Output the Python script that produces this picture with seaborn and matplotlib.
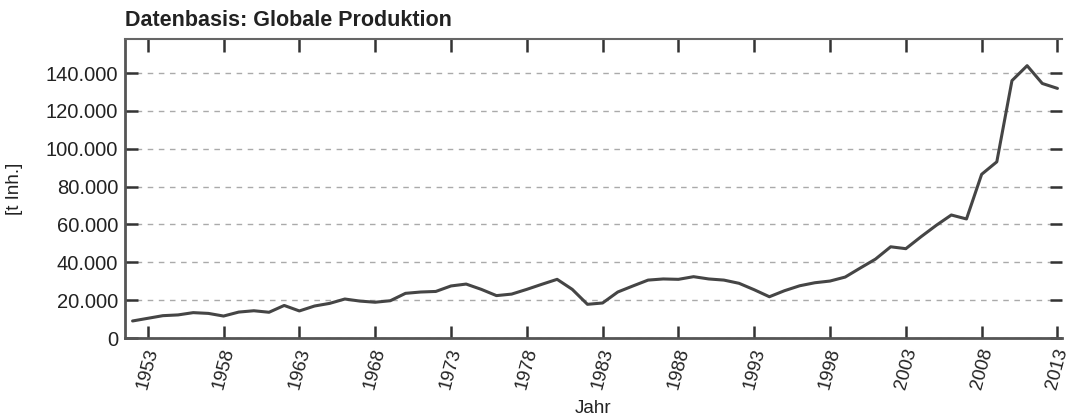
import numpy as np
import pandas as pd
import matplotlib
matplotlib.use("Agg")
import matplotlib.pyplot as plt
from matplotlib.ticker import FuncFormatter
import seaborn as sns

years = list(range(1952, 2014))
production = [
    9000, 10400, 11800, 12200, 13400, 13000, 11600, 13700, 14400, 13600,   # 1952-1961
    17200, 14300, 16900, 18300, 20600, 19500, 18900, 19700, 23600, 24300,  # 1962-1971
    24600, 27500, 28500, 25700, 22400, 23200, 25700, 28400, 31000, 25700,  # 1972-1981
    17800, 18500, 24300, 27500, 30600, 31200, 31000, 32400, 31200, 30600,  # 1982-1991
    28900, 25500, 21800, 25000, 27600, 29200, 30100, 32200, 37000, 41700,  # 1992-2001
    48200, 47200, 53500, 59500, 65000, 62900, 86500, 93100, 136000, 143900,  # 2002-2011
    134500, 131900,                                                        # 2012-2013
]
xtick_years = list(range(1953, 2014, 5))
ytick_values = list(range(0, 140001, 20000))

title = "Datenbasis: Globale Produktion"
xlabel = "Jahr"
ylabel = "[t Inh.]"

df = pd.DataFrame({"Jahr": years, "Produktion": production})

sns.set_theme(style="white")
plt.rcParams["font.family"] = ["Liberation Sans", "DejaVu Sans"]

fig = plt.figure(figsize=(10.66, 4.18), dpi=100)
ax = fig.add_axes([125 / 1066, 80 / 418, (1062 - 125) / 1066, (338 - 39) / 418])

sns.lineplot(data=df, x="Jahr", y="Produktion", ax=ax, color="#454545", linewidth=2.2)

ax.set_xlim(1951.5, 2013.3)
ax.set_ylim(0, 158000)
ax.set_xticks(xtick_years)
ax.set_yticks(ytick_values)
ax.yaxis.set_major_formatter(FuncFormatter(lambda v, p: "0" if v == 0 else f"{int(v):,}".replace(",", ".")))

ax.grid(axis="y", color="#aaaaaa", linestyle=(0, (4, 4)), linewidth=1.0)
ax.grid(axis="x", visible=False)

for side in ["left", "bottom"]:
    ax.spines[side].set_color("#555555")
    ax.spines[side].set_linewidth(2)
ax.spines["top"].set_color("#666666")
ax.spines["top"].set_linewidth(1.5)
ax.spines["right"].set_visible(False)

ax.tick_params(axis="both", direction="in", length=9, width=1.8, color="#333333",
               labelcolor="#222222")
ax.tick_params(axis="x", top=True, bottom=True, pad=6, labelsize=13.5)
ax.tick_params(axis="y", left=True, right=True, pad=5, labelsize=14.5)

for lbl in ax.get_xticklabels():
    lbl.set_rotation(75)
    lbl.set_ha("center")

ax.set_xlabel(xlabel, fontsize=13.5, color="#222222")
ax.set_ylabel(ylabel, fontsize=13.5, color="#222222")
ax.xaxis.set_label_coords((593 - 125) / 937, (338 - 400) / 299)
ax.yaxis.set_label_coords((23 - 125) / 937, 0.5)
fig.text(125 / 1066, 1 - 20 / 418, title, fontsize=15.5, fontweight="bold",
         color="#222222", ha="left", va="center")

fig.savefig("out.png", dpi=100)
